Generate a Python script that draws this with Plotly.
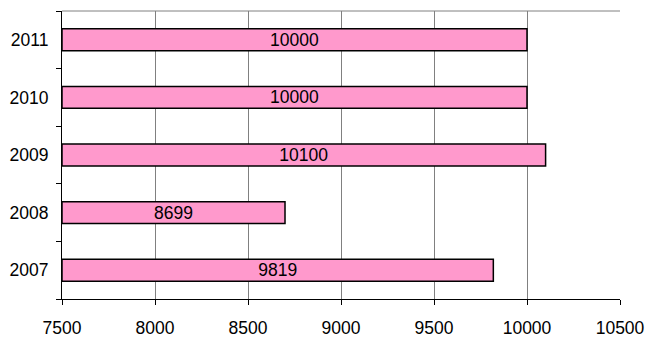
import plotly.graph_objects as go

years = ["2007", "2008", "2009", "2010", "2011"]
values = [9819, 8699, 10100, 10000, 10000]
labels = ["9819", "8699", "10100", "10000", "10000"]
xticks = [7500, 8000, 8500, 9000, 9500, 10000, 10500]
xtick_labels = ["7500", "8000", "8500", "9000", "9500", "10000", "10500"]
axis_min = 7500

fig = go.Figure(go.Bar(
    x=[v - axis_min for v in values], y=years, orientation="h",
    base=axis_min,
    text=labels, textposition="inside", insidetextanchor="middle",
    constraintext="none",
    textfont=dict(family="Liberation Sans, Arial", size=17.5, color="black"),
    insidetextfont=dict(family="Liberation Sans, Arial", size=17.5, color="black"),
    marker=dict(color="#FF99CC", line=dict(color="black", width=1.5)),
    width=0.38, cliponaxis=False, hoverinfo="skip",
))

fig.update_layout(
    width=650, height=349,
    margin=dict(l=62, r=30, t=11, b=50),
    paper_bgcolor="white", plot_bgcolor="white",
    showlegend=False,
    font=dict(family="Liberation Sans, Arial", size=17.5, color="black"),
    xaxis=dict(range=[7500, 10500], tickvals=xticks, ticktext=xtick_labels,
               showgrid=True, gridcolor="#808080", gridwidth=1,
               showline=True, linecolor="black", linewidth=1,
               ticks="outside", ticklen=5, tickcolor="black",
               ticklabelstandoff=8, zeroline=False, automargin=False,
               tickfont=dict(size=17.5)),
    yaxis=dict(categoryorder="array", categoryarray=years,
               showline=True, linecolor="black", linewidth=1,
               ticks="outside", ticklen=5, tickcolor="black", tickson="boundaries",
               ticklabelstandoff=9, showgrid=False, automargin=False,
               tickfont=dict(size=17.5)),
    shapes=[dict(type="line", xref="paper", yref="paper", x0=0, x1=1, y0=1, y1=1,
                 line=dict(color="#808080", width=1))],
)
fig.write_html("out.html")
